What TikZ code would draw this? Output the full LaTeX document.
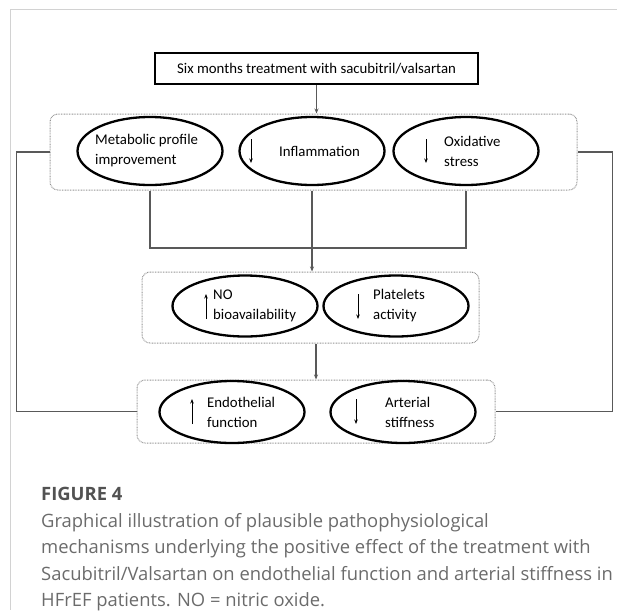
\documentclass[tikz,border=0pt]{standalone}
\usepackage{fontspec}
\setmainfont{Carlito}
\newfontfamily\capfont{Open Sans}
\usetikzlibrary{
  arrows.meta,
  positioning,
  shapes.geometric
}

\begin{document}
\begin{tikzpicture}[x=1pt, y=-1pt,
  panel/.style={draw=gray!85, dash pattern=on 0.8pt off 0.8pt, line width=1pt,
                rounded corners=8pt, inner sep=0pt},
  effect/.style={ellipse, draw=black, line width=2.3pt, minimum width=145pt,
                 inner sep=0pt},
  words/.style={font=\fontsize{14.8}{20}\selectfont, align=left, anchor=west,
                inner sep=0pt},
  tick/.style={-{Stealth[length=4.5pt, width=3.5pt]}, line width=1pt},
  link/.style={draw=black!65, line width=1.3pt},
  tip/.style={-{Stealth[length=5pt, width=4pt]}}
]
\useasboundingbox (0,0) rectangle (617,610);
\draw[gray!35, line width=1pt] (617,10) -- (10,10) -- (10,610);

% treatment box
\node[draw, line width=1.8pt, minimum width=323pt, minimum height=31pt,
      font=\fontsize{14.8}{16}\selectfont] (treat) at (316.5,68.5)
  {Six months treatment with sacubitril/valsartan};

% dotted panels
\node[panel, minimum width=527pt, minimum height=76pt] (lvlone) at (313.5,152) {};
\node[panel, minimum width=337pt, minimum height=71pt] (lvltwo) at (310.5,307.5) {};
\node[panel, minimum width=358pt, minimum height=63pt] (lvlthree) at (316,411.5) {};

% ellipses
\foreach \n/\x/\y/\h in {metab/150/151/68, inflam/312/151/68, oxid/466/151/68,
                         nobio/245/306/61, platel/396/306/61,
                         endo/232/412/62, stiff/403/412/62}{
  \node[effect, minimum height=\h pt] (\n) at (\x,\y) {};
}

% texts
\foreach \n/\x/\y/\t in {metab/95/151/{Metabolic profile\\improvement},
                         inflam/279/151/{Inflammation},
                         oxid/444/151/{Oxidative\\stress},
                         nobio/213/306/{NO\\bioavailability},
                         platel/373/306/{Platelets\\activity},
                         endo/207/412/{Endothelial\\function},
                         stiff/385/412/{Arterial\\stiffness}}{
  \node[words] (\n-t) at (\x,\y) {\t};
}

% up and down marks
\foreach \x/\ya/\yb in {251/139/163, 426/139/163, 206/319/294, 358/294/319,
                        192/424/399, 356/399/424}{
  \draw[tick] (\x,\ya) -- (\x,\yb);
}

% connectors
\coordinate (join) at (313,248);
\draw[link, tip] (treat.south) -- (treat.south |- lvlone.north);
\draw[link] (metab |- lvlone.south) -- (metab |- join) -- (oxid |- join)
  -- (oxid |- lvlone.south);
\draw[link, tip] (inflam |- lvlone.south) -- (inflam |- lvltwo.north);
\draw[link, tip] (lvlthree.north |- lvltwo.south) -- (lvlthree.north);
\draw[link] (lvlone.west) -- ++(-33,0) |- (lvlthree.west);
\draw[link] (lvlone.east) -- ++(35,0) |- (lvlthree.east);

% caption
\node[anchor=north west, align=left, inner sep=0pt, text=black!58,
      font=\capfont\fontsize{18.4}{26.5}\selectfont] (cap) at (41,487)
  {{\bfseries\color{black!68}FIGURE 4}\\
   Graphical illustration of plausible pathophysiological\\
   mechanisms underlying the positive effect of the treatment with\\
   Sacubitril/Valsartan on endothelial function and arterial stiffness in\\
   HFrEF patients. NO = nitric oxide.};
\end{tikzpicture}
\end{document}
